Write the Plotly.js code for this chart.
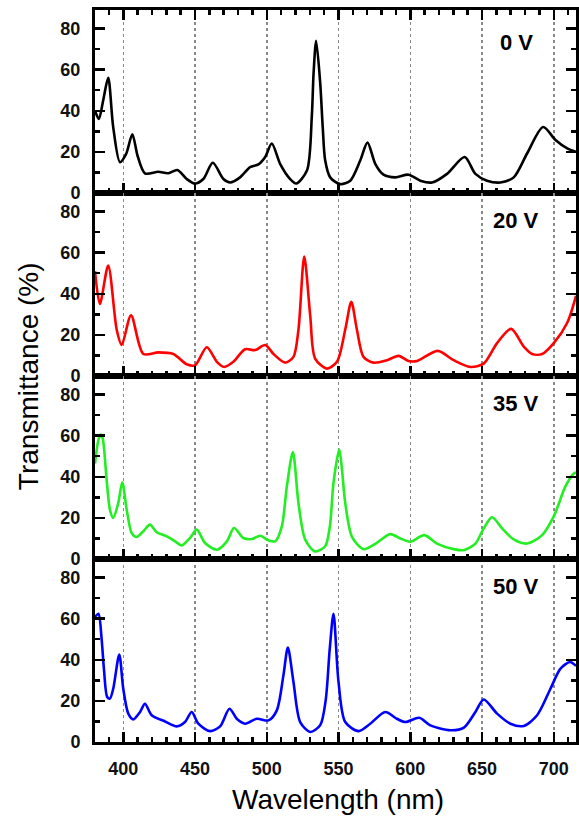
<!DOCTYPE html>
<html>
<head>
<meta charset="utf-8">
<script src="https://cdn.plot.ly/plotly-3.0.1.min.js"></script>
<style>html,body{margin:0;padding:0;background:#fff;}#chart{width:579px;height:821px;}</style>
</head>
<body>
<div id="chart"></div>
<script>
// ---- Data (wavelength in nm, transmittance in %) ----
const wl0 = [380.3, 383, 386, 389.5, 393, 397.7, 402, 406.3, 410, 415.1, 424.4, 431.4, 437.7, 444.2, 450, 455.8, 462.4, 469.8, 474.4, 481.4, 488.4, 494.2, 498.9, 503.5, 509.3, 516.3, 520.5, 528, 531.4, 532.6, 534.4, 537.2, 539, 540.7, 544.2, 551.2, 558.2, 565.2, 570.2, 575.6, 581.4, 589.6, 598.8, 607, 615.2, 625.6, 637.9, 645.4, 653.5, 662.8, 672.1, 681.4, 692.6, 701.2, 709.4, 715.5];
const t0  = [40, 36, 45, 56, 32, 15, 19, 28.6, 18, 9.6, 10.3, 9.6, 11.2, 6.8, 4.6, 6.8, 14.7, 6.8, 5.1, 7.6, 12.6, 13.9, 17.5, 24.1, 14.2, 6.8, 4.6, 10.9, 37.4, 58, 74, 53.9, 32, 15.9, 7.6, 4.3, 6, 15.9, 24.5, 14.2, 8.9, 7.6, 8.9, 6, 5.1, 9.3, 17.5, 9.3, 6, 5.1, 7.6, 19.2, 32.1, 25.8, 21.7, 20];

const wl20 = [380.3, 383.7, 389.5, 395.4, 398.9, 405.4, 414, 424.4, 434.9, 444.2, 450, 458.2, 465.2, 470.3, 476.7, 484.9, 491.9, 498.9, 504.7, 512.8, 518.6, 522.1, 526.1, 530.3, 533.7, 541.9, 548.9, 554.7, 558.9, 562.8, 567.4, 574.4, 583.8, 591.9, 598.8, 604.7, 619.1, 630.2, 641.9, 651.2, 660.5, 670.3, 679.1, 684.9, 691.9, 700, 709.4, 715.5];
const t20  = [51, 35, 53.7, 22.6, 15.1, 29.5, 10.7, 11.5, 10.7, 5.7, 5.2, 14, 6.9, 4.4, 6.9, 13, 12.6, 15.1, 10.7, 6.5, 9.3, 22.6, 58.1, 29.2, 8.5, 3.6, 6.9, 22.6, 36.1, 22.6, 9.3, 6.5, 7.7, 9.8, 7.3, 7.3, 12.2, 7.7, 4.4, 6, 16, 22.9, 14.3, 10.7, 10.7, 16, 25.9, 39];

const wl35 = [380.3, 382.7, 384.2, 385.6, 388.4, 390.7, 393, 396.5, 399.3, 402.4, 405.9, 409.4, 414, 418.6, 423.3, 430.3, 436.1, 440.7, 446.5, 451.2, 457, 465.2, 472.2, 477.2, 483.7, 489.6, 495.4, 501.2, 505.8, 510.5, 514, 518.2, 522.1, 526.8, 533.7, 540.7, 544, 546.5, 550.5, 552.4, 554.7, 559.4, 567.4, 576.7, 586, 593, 600, 609.8, 618.6, 630.2, 637.2, 645.4, 651.2, 657, 664, 672.1, 681.4, 691.9, 700, 708.2, 714, 715.5];
const t35  = [46.4, 58, 60.5, 58.8, 38.6, 24, 20, 27.2, 37.3, 24, 12.6, 10.7, 13.5, 16.7, 13, 11, 8.6, 6.6, 10.2, 14.3, 7.8, 4.5, 8.6, 15.1, 10.2, 9.7, 11.3, 9.1, 8.6, 15.9, 35.3, 52, 27.2, 9.4, 3.7, 6.2, 16, 37, 53.4, 43.6, 27.2, 10.8, 4.8, 7.9, 12.1, 10, 8.4, 11.6, 7.5, 4.8, 4.3, 7.5, 14.9, 20.3, 14.9, 9.5, 7.5, 11.6, 20.7, 35.4, 41.6, 42];

const wl50 = [380.3, 382.7, 384.9, 386.5, 388.8, 390.7, 393, 397.2, 400, 403.5, 407, 411.7, 415.1, 419.8, 429.1, 437.3, 443, 447.7, 452.3, 460.5, 467.5, 474, 479.1, 484.9, 493.1, 501.2, 507, 511.6, 514.7, 518.6, 523.3, 530.3, 537.2, 541, 543.9, 546.5, 550, 554.7, 564, 572.1, 582.6, 590.7, 596.5, 606.3, 614, 627.9, 637.4, 645.4, 651.2, 660.5, 669.8, 679.1, 688.4, 697.7, 704.7, 711.3, 715.5];
const t50  = [60.8, 62.4, 50.2, 35.7, 21.9, 21.1, 25.9, 42.5, 25.9, 13.8, 11, 14.6, 18.6, 13, 10, 7.6, 9.7, 14.6, 8.9, 5.3, 7.6, 16.2, 11.3, 8.9, 11.3, 10.5, 15.4, 32.4, 45.9, 29.2, 9.7, 4.9, 8.1, 20, 45.4, 62.4, 29.2, 9.7, 5.3, 8.9, 14.6, 11.3, 9.7, 11.8, 8.1, 5.7, 7, 14.6, 20.7, 13.8, 8.9, 7.8, 13, 25.9, 35.7, 38.9, 37];

const panelLabels = ["0 V", "20 V", "35 V", "50 V"];
const colors = ["#000000", "#ff0000", "#22ee22", "#0000ff"];
const xTickVals = [400, 450, 500, 550, 600, 650, 700];
const yTickVals = [0, 20, 40, 60, 80];

// ---- Build ----
const FONT = "Liberation Sans, Arial, sans-serif";
const series = [[wl0, t0], [wl20, t20], [wl35, t35], [wl50, t50]];
const xNames = ["x2", "x3", "x4", "x"];
const yNames = ["y", "y2", "y3", "y4"];

const traces = series.map((s, i) => ({
  x: s[0], y: s[1], type: "scatter", mode: "lines",
  xaxis: xNames[i], yaxis: yNames[i],
  line: {color: colors[i], width: 2.6, shape: "spline", smoothing: 0.8},
  hoverinfo: "skip", showlegend: false
}));

function xAxis(anchor, showLabels, mirror) {
  return {
    anchor: anchor, range: [380.3, 715.5], tickmode: "array", tickvals: xTickVals,
    ticks: "inside", ticklen: 10, tickwidth: 2.5, tickcolor: "#000",
    showticklabels: showLabels, ticklabelstandoff: 8,
    tickfont: {family: FONT, size: 18, color: "#111", weight: "bold"},
    showline: true, linewidth: 3, linecolor: "#000", mirror: mirror,
    showgrid: true, gridcolor: "#8a8a8a", griddash: "dot", gridwidth: 1.5,
    zeroline: false, fixedrange: true,
    minor: {dtick: 10, tick0: 400, ticks: "inside", ticklen: 5, tickwidth: 2.5, tickcolor: "#000", showgrid: false}
  };
}
function yAxis(anchor, domain) {
  return {
    anchor: anchor, domain: domain, range: [0, 89],
    tickmode: "array", tickvals: yTickVals,
    ticks: "inside", ticklen: 10, tickwidth: 2.5, tickcolor: "#000",
    ticklabelstandoff: 8,
    tickfont: {family: FONT, size: 18, color: "#111", weight: "bold"},
    showline: true, linewidth: 3, linecolor: "#000", mirror: "ticks",
    showgrid: false, zeroline: false, fixedrange: true,
    minor: {dtick: 10, tick0: 0, ticks: "inside", ticklen: 5, tickwidth: 2.5, tickcolor: "#000", showgrid: false}
  };
}

const domains = [[0.75, 1], [0.5, 0.75], [0.25, 0.5], [0, 0.25]];
const layout = {
  width: 579, height: 821,
  margin: {l: 95, r: 3, t: 10, b: 79},
  paper_bgcolor: "#fff", plot_bgcolor: "#fff",
  font: {family: FONT, color: "#000"},
  xaxis: xAxis("y4", true, true),
  xaxis2: xAxis("y", false, "ticks"),
  xaxis3: xAxis("y2", false, true),
  xaxis4: xAxis("y3", false, true),
  yaxis: yAxis("x2", domains[0]),
  yaxis2: yAxis("x3", domains[1]),
  yaxis3: yAxis("x4", domains[2]),
  yaxis4: yAxis("x", domains[3]),
  annotations: []
};
const labelY = [0.82, 0.847, 0.847, 0.847];
panelLabels.forEach((lab, i) => {
  layout.annotations.push({
    text: lab, xref: xNames[i], x: 674, yref: yNames[i] + " domain", y: labelY[i],
    xanchor: "center", yanchor: "middle", showarrow: false,
    font: {family: FONT, size: 22, color: "#000", weight: "bold"}
  });
});
layout.annotations.push({
  text: "Transmittance (%)", xref: "paper", yref: "paper", x: -0.139, y: 0.5,
  xanchor: "center", yanchor: "middle", textangle: -90, showarrow: false,
  font: {family: FONT, size: 28, color: "#000"}
});
layout.annotations.push({
  text: "Wavelength (nm)", xref: "paper", yref: "paper", x: 0.505, y: -0.079,
  xanchor: "center", yanchor: "middle", showarrow: false,
  font: {family: FONT, size: 28, color: "#000"}
});

Plotly.newPlot("chart", traces, layout, {staticPlot: true, displayModeBar: false});
</script>
</body>
</html>
